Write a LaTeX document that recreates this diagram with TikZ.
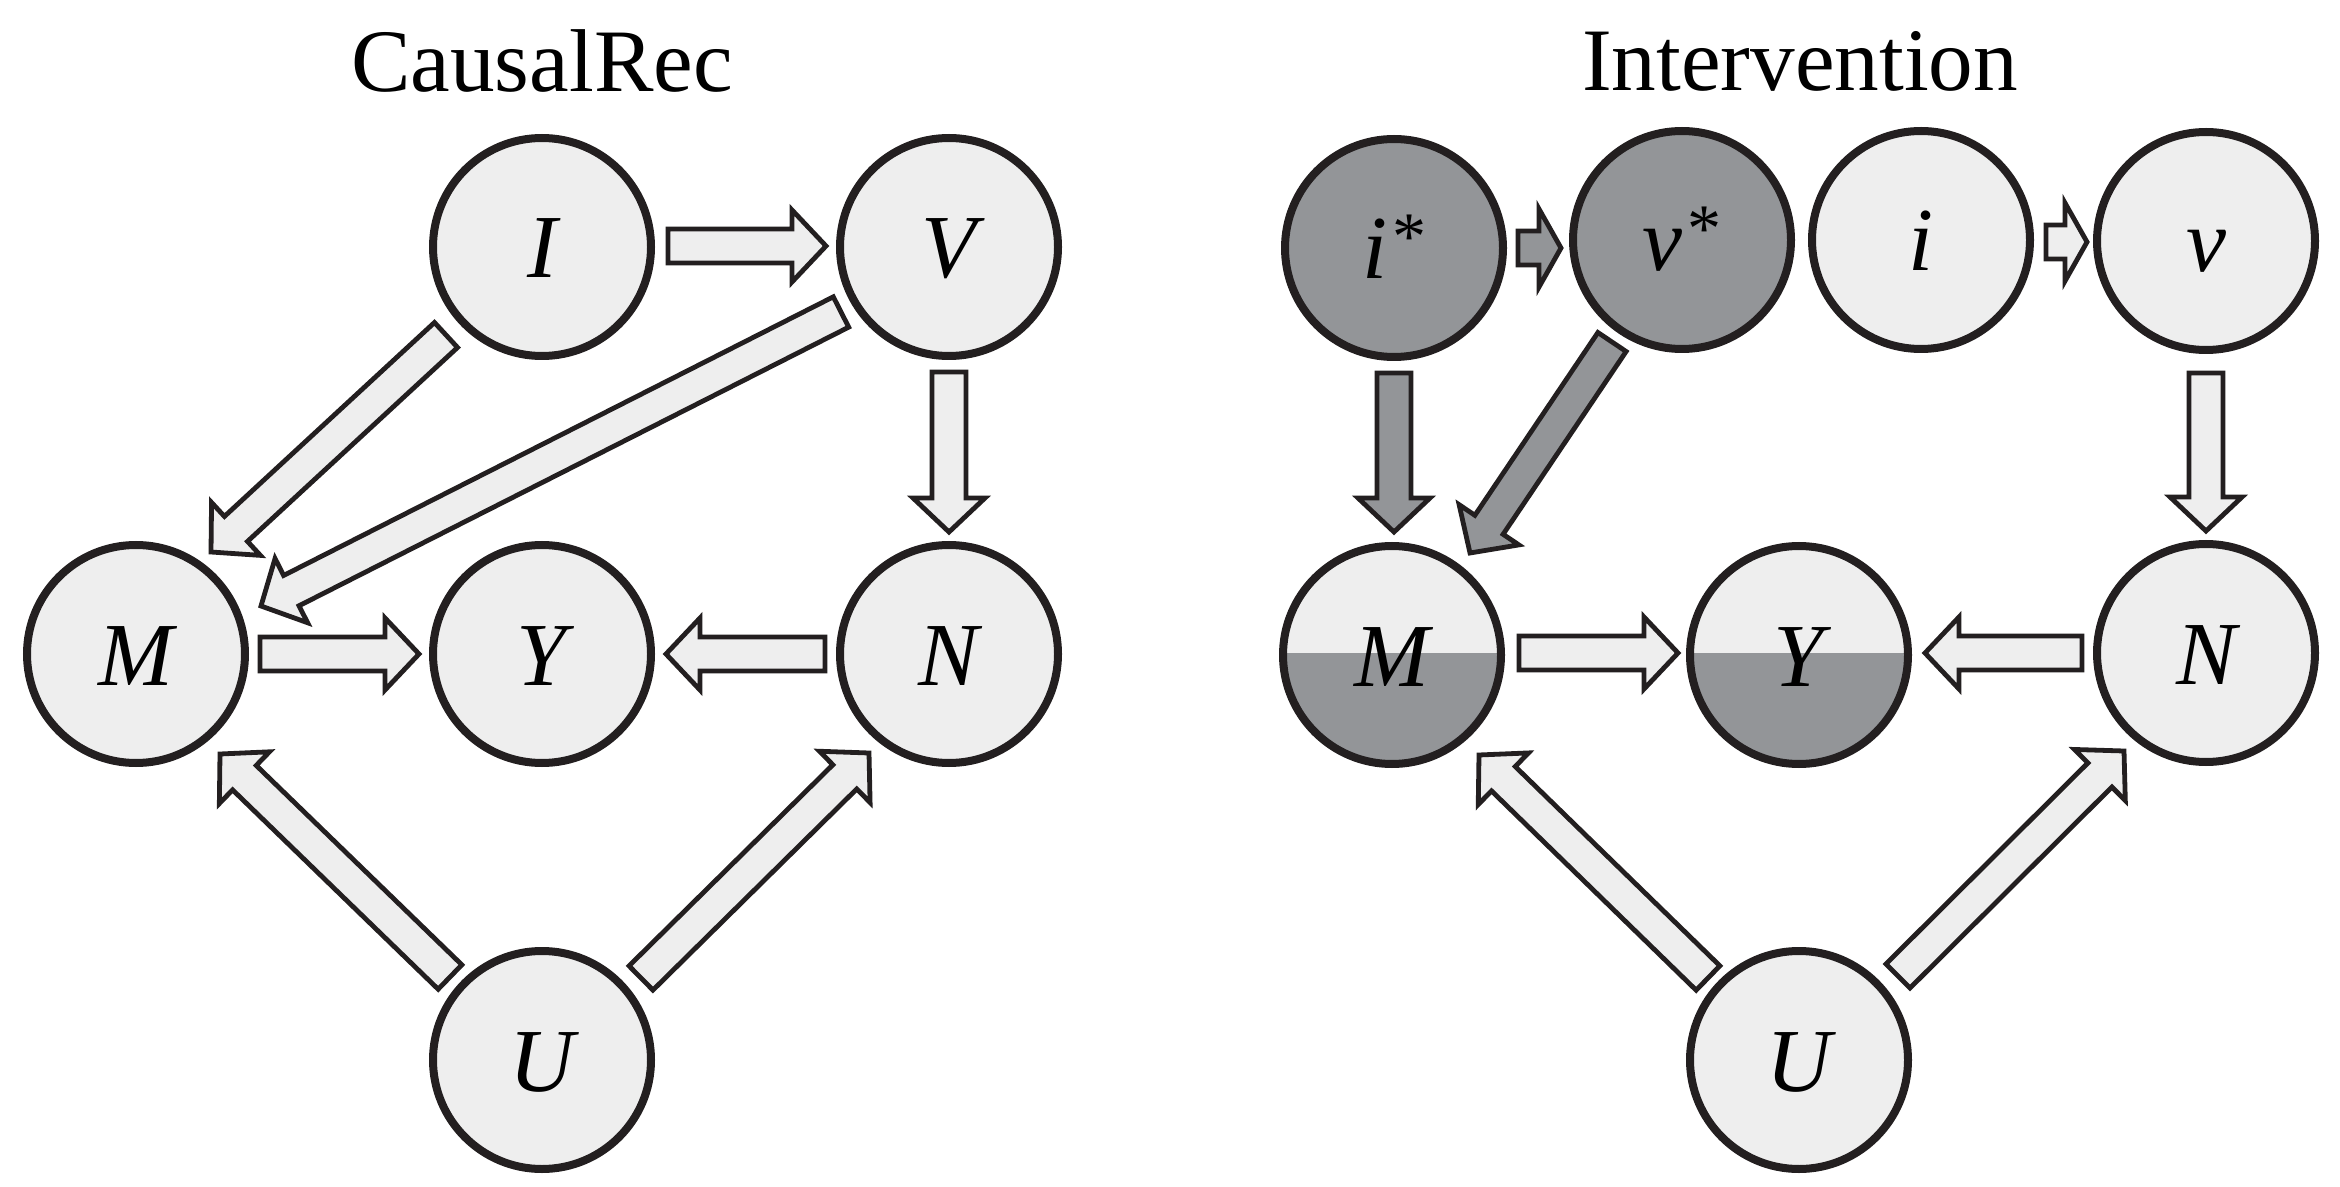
\documentclass[tikz,border=0pt]{standalone}
\usepackage{fontspec}
\setmainfont{Liberation Serif}
\usetikzlibrary{calc}
\definecolor{lightfill}{RGB}{238,238,238}
\definecolor{darkfill}{RGB}{147,149,152}
\definecolor{inkline}{RGB}{35,31,32}
\newcommand\BArrow[5][]{%
  \coordinate (ba-s) at (#2);
  \coordinate (ba-t) at (#3);
  \coordinate (ba-c) at ($(ba-t)!#4!(ba-s)$);
  \draw[barrow,#1] ($(ba-s)!8.5pt!90:(ba-t)$) -- ($(ba-c)!8.5pt!90:(ba-t)$) -- ($(ba-c)!#5!90:(ba-t)$) -- (ba-t) -- ($(ba-c)!#5!-90:(ba-t)$) -- ($(ba-c)!8.5pt!-90:(ba-t)$) -- ($(ba-s)!8.5pt!-90:(ba-t)$) -- cycle;
}
\newcommand\Ast{\kern2.5pt\raisebox{9.5pt}{\fontsize{34}{34}\selectfont\upshape *}}
\begin{document}
\begin{tikzpicture}[x=0.5pt,y=-0.5pt,line join=miter,
  vnode/.style={circle,draw=inkline,line width=4pt,fill=lightfill,minimum size=109pt,inner sep=0pt,
    text height=31pt,text depth=0pt,font=\fontsize{45}{50}\selectfont\itshape},
  darknode/.style={vnode,fill=darkfill},
  halfnode/.style={vnode,path picture={\fill[darkfill] ([yshift=1pt]path picture bounding box.west) rectangle (path picture bounding box.south east);}},
  barrow/.style={draw=inkline,line width=2.4pt,fill=lightfill},
  darrow/.style={fill=darkfill},
  ttl/.style={font=\fontsize{44.6}{50}\selectfont,anchor=base,inner sep=0pt}]
\useasboundingbox (0,0) rectangle (2340,1187);
% titles
\node[ttl] (t1) at (542,92) {CausalRec};
\node[ttl] (t2) at (1800,91) {Intervention};
% left nodes
\node[vnode] (I) at (542,247) {I};
\node[vnode] (V) at (949,247) {V};
\node[vnode] (M) at (136,654) {M};
\node[vnode] (Y) at (542,654) {Y};
\node[vnode] (N) at (949,654) {N};
\node[vnode] (U) at (542,1060) {U};
% right nodes
\node[darknode] (is) at (1394,248) {i\Ast};
\node[darknode] (vs) at (1682,240) {v\Ast};
\node[vnode] (i) at (1921,240) {i};
\node[vnode] (v) at (2206,241) {v};
\node[halfnode] (M2) at (1392,655) {M};
\node[halfnode] (Y2) at (1799,655) {Y};
\node[vnode] (N2) at (2206,653) {N};
\node[vnode] (U2) at (1799,1060) {U};
% left arrows
\BArrow{$(I)+(126,-1)$}{$(V)+(-123,-1)$}{17pt}{18pt}
\BArrow{$(I)+(-96,88)$}{$(M)+(75,-102)$}{17pt}{18pt}
\BArrow{$(V)+(-108,65)$}{$(M)+(125,-48)$}{17pt}{18pt}
\BArrow{$(V)+(0,125)$}{$(N)+(0,-122)$}{17pt}{18pt}
\BArrow{$(M)+(124,0)$}{$(Y)+(-123,0)$}{17pt}{18pt}
\BArrow{$(N)+(-124,0)$}{$(Y)+(124,0)$}{17pt}{18pt}
\BArrow{$(U)+(-92,-83)$}{$(M)+(84,100)$}{17pt}{18pt}
\BArrow{$(U)+(99,-82)$}{$(N)+(-80,99)$}{17pt}{18pt}
% right arrows
\BArrow[darrow]{$(is)+(124,0)$}{$(vs)+(-121,8)$}{11pt}{19.5pt}
\BArrow{$(i)+(125,2)$}{$(v)+(-119,1)$}{11pt}{19.5pt}
\BArrow[darrow]{$(is)+(0,125)$}{$(M2)+(2,-123)$}{17pt}{18pt}
\BArrow[darrow]{$(vs)+(-70,102)$}{$(M2)+(78,-102)$}{17pt}{18pt}
\BArrow{$(v)+(0,132)$}{$(N2)+(0,-122)$}{17pt}{18pt}
\BArrow{$(M2)+(127,-2)$}{$(Y2)+(-121,-2)$}{17pt}{18pt}
\BArrow{$(N2)+(-124,0)$}{$(Y2)+(126,-2)$}{17pt}{18pt}
\BArrow{$(U2)+(-91,-82)$}{$(M2)+(87,100)$}{17pt}{18pt}
\BArrow{$(U2)+(99,-84)$}{$(N2)+(-82,98)$}{17pt}{18pt}
\end{tikzpicture}
\end{document}
